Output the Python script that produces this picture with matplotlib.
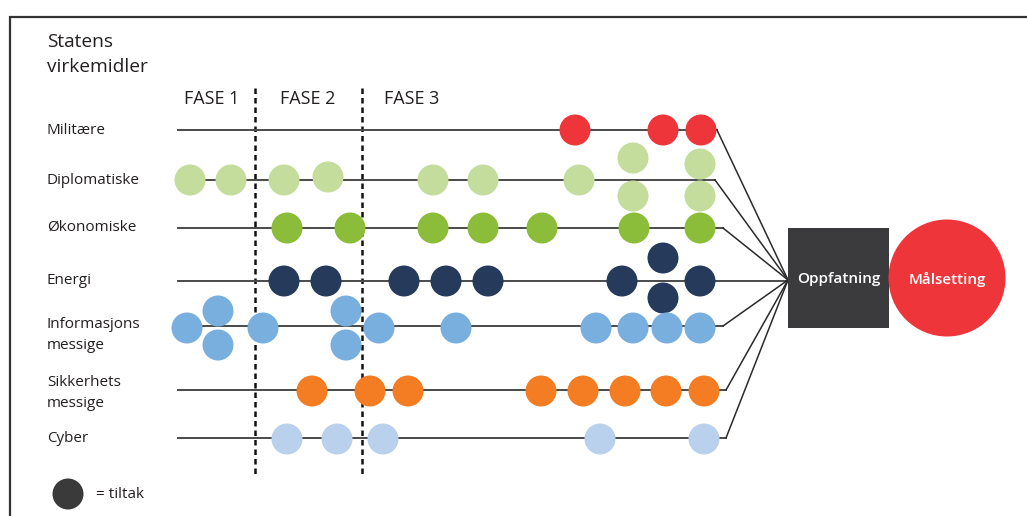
import matplotlib
matplotlib.use("Agg")
import matplotlib.pyplot as plt
from matplotlib.patches import Circle, Rectangle

# ---- data ----
rows = ["Militære", "Diplomatiske", "Økonomiske", "Energi",
        "Informasjons\nmessige", "Sikkerhets\nmessige", "Cyber"]
row_y = [130, 180, 228, 281, 326, 390, 438]
label_y = [130, 180, 227, 281, 335, 393, 438]
row_colors = ["#EE3539", "#C4DC9C", "#8CBD3A", "#263B5B", "#79AFDE", "#F47C22", "#B9D1EC"]
row_end = [717, 715, 723, 788, 723, 726, 726]

mil_x = [575, 663, 701]
mil_dy = [0, 0, 0]
dip_x = [190, 231, 284, 328, 433, 483, 579, 633, 633, 700, 700]
dip_dy = [0, 0, 0, -3, 0, 0, 0, -22, 16, -16, 16]
oko_x = [287, 350, 433, 483, 542, 634, 700]
oko_dy = [0, 0, 0, 0, 0, 0, 0]
ene_x = [284, 326, 404, 446, 488, 622, 663, 663, 700]
ene_dy = [0, 0, 0, 0, 0, 0, -23, 17, 0]
inf_x = [187, 218, 218, 263, 346, 346, 379, 456, 596, 633, 667, 700]
inf_dy = [2, -15, 19, 2, -15, 19, 2, 2, 2, 2, 2, 2]
sik_x = [312, 370, 408, 541, 583, 625, 666, 704]
sik_dy = [1, 1, 1, 1, 1, 1, 1, 1]
cyb_x = [287, 337, 383, 600, 704]
cyb_dy = [1, 1, 1, 1, 1]
row_x = [mil_x, dip_x, oko_x, ene_x, inf_x, sik_x, cyb_x]
row_dy = [mil_dy, dip_dy, oko_dy, ene_dy, inf_dy, sik_dy, cyb_dy]

phases = ["FASE 1", "FASE 2", "FASE 3"]
phase_x = [184, 280, 384]
divider_x = [255, 362]

# ---- figure ----
W, H = 1027, 516
fig = plt.figure(figsize=(W / 100, H / 100), dpi=100)
ax = fig.add_axes([0, 0, 1, 1])
ax.set_xlim(0, W)
ax.set_ylim(H, 0)
ax.set_aspect("equal")
ax.axis("off")

FONT = "Open Sans"
TXT = "#231F20"
R = 15.5
line_start = 178
hub = (788, 280)

# frame
ax.plot([10, 10, W], [H, 17, 17], color="#333333", lw=1.6, solid_joinstyle="miter", zorder=1)

# title
ax.text(47, 42, "Statens", fontsize=13.8, family=FONT, color=TXT, va="center", ha="left")
ax.text(47, 67, "virkemidler", fontsize=13.8, family=FONT, color=TXT, va="center", ha="left")

# phases
for label, px in zip(phases, phase_x):
    ax.text(px, 99, label, fontsize=13, family=FONT, color=TXT, va="center", ha="left")
for dx in divider_x:
    ax.plot([dx, dx], [88, 474], color="#111111", lw=1.8, ls=(0, (2.2, 1.6)), zorder=2)

# rows
for name, y, ly, col, xs, dys, xe in zip(rows, row_y, label_y, row_colors, row_x, row_dy, row_end):
    ax.text(47, ly, name, fontsize=11, family=FONT, color=TXT, va="center", ha="left",
            linespacing=1.55)
    ax.plot([line_start, xe], [y, y], color="#4a4a4a", lw=1.4, zorder=3)
    if xe < hub[0]:
        ax.plot([xe, hub[0]], [y, hub[1]], color="#2a2a2a", lw=1.1, zorder=3)
    for x, dy in zip(xs, dys):
        ax.add_patch(Circle((x, y + dy), R, facecolor=col, edgecolor="none", zorder=4))

# box and goal
ax.add_patch(Rectangle((788, 228), 101, 100, facecolor="#3B3B3D", edgecolor="none", zorder=5))
ax.text(838.5, 279, "Oppfatning", fontsize=11, family=FONT, color="white",
        ha="center", va="center", fontweight="semibold", zorder=6)
ax.add_patch(Circle((947, 278), 58.5, facecolor="#EE3539", edgecolor="none", zorder=5))
ax.text(947, 279, "Målsetting", fontsize=11, family=FONT, color="white",
        ha="center", va="center", fontweight="semibold", zorder=6)

# legend
ax.add_patch(Circle((68, 494), 15.5, facecolor="#3A3A3A", edgecolor="none", zorder=4))
ax.text(96, 494, "= tiltak", fontsize=11, family=FONT, color=TXT, va="center", ha="left")

fig.savefig("out.png", dpi=100)
